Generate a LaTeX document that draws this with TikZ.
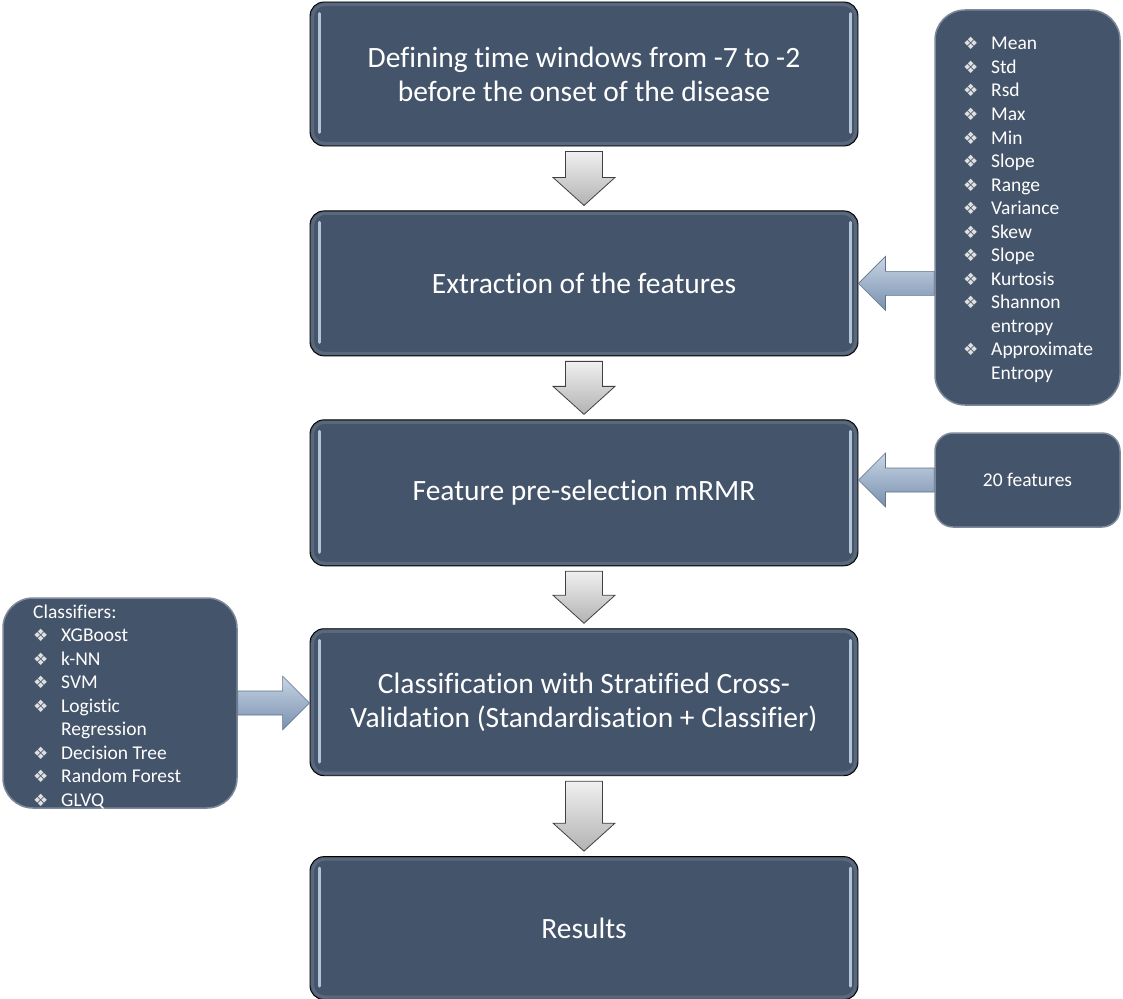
\documentclass[tikz,border=0pt]{standalone}
\usepackage{fontspec}
\setmainfont{Carlito}[Ligatures=NoCommon]
\newfontfamily\dejavu{DejaVu Sans}
\usetikzlibrary{positioning,calc}
\definecolor{slate}{HTML}{44546A}
\definecolor{slateedge}{HTML}{7D899B}
\definecolor{glint}{HTML}{B4C3D6}
\definecolor{steellight}{HTML}{C8D5E5}
\definecolor{steeldark}{HTML}{7890AE}
\newcommand{\featbullet}{\makebox[14pt][l]{\dejavu\fontsize{17}{17}\selectfont\color{black!12}❖}}

\begin{document}
\begin{tikzpicture}[x=1pt,y=-1pt,
  stage/.style={draw=black, line width=0.9pt, fill=slate, rounded corners=14pt, minimum width=548pt, minimum height=145pt, text=white, align=center, font=\fontsize{29.5}{34}\selectfont},
  sidebox/.style={draw=slateedge, line width=1.5pt, fill=slate, rounded corners=30pt},
  listtext/.style={anchor=base west, inner sep=0pt, text=white, font=\fontsize{19.5}{23.5}\selectfont},
  downarrow/.style={draw=black!75, line width=0.8pt, top color=black!6, bottom color=black!30},
  sidearrow/.style={draw=steeldark!80!black, line width=0.6pt, top color=steellight, bottom color=steeldark}]
\useasboundingbox (0,0) rectangle (1123,998);

\node[stage, minimum height=144pt] (b1) at (584,74) {Defining time windows from -7 to -2\\before the onset of the disease};
\node[stage, below=64pt of b1] (b2) {Extraction of the features};
\node[stage, minimum height=146pt, below=63pt of b2] (b3) {Feature pre-selection mRMR};
\node[stage, minimum height=147pt, below=62pt of b3] (b4) {Classification with Stratified Cross-\\Validation (Standardisation + Classifier)};
\node[stage, minimum height=143pt, below=80pt of b4] (b5) {Results};

\foreach \n in {b1,b2,b3,b4,b5} {
  \draw[white, opacity=0.12, line width=3pt, rounded corners=12pt] ([shift={(3pt,-3pt)}]\n.north west) rectangle ([shift={(-3pt,3pt)}]\n.south east);
  \draw[glint, line width=3pt, line cap=round] ([shift={(10pt,-12pt)}]\n.north west) -- ([shift={(10pt,14pt)}]\n.south west);
  \draw[glint, line width=3pt, line cap=round] ([shift={(-8pt,-12pt)}]\n.north east) -- ([shift={(-8pt,14pt)}]\n.south east);
}

\node[sidebox, minimum width=185pt, minimum height=395pt] (feat) at (1027.5,207.5) {};
\node[sidebox, rounded corners=18pt, minimum width=185pt, minimum height=94pt, text=white, font=\fontsize{19.5}{23.5}\selectfont] (sel) at (1027.5,480) {20 features};
\node[sidebox, minimum width=234pt, minimum height=210pt] (clf) at (120,703) {};

\node[listtext] (featlist) at (963,50) {\begin{tabular}[t]{@{}l@{\hspace{14pt}}l@{}}
\featbullet & Mean\\
\featbullet & Std\\
\featbullet & Rsd\\
\featbullet & Max\\
\featbullet & Min\\
\featbullet & Slope\\
\featbullet & Range\\
\featbullet & Variance\\
\featbullet & Skew\\
\featbullet & Slope\\
\featbullet & Kurtosis\\
\featbullet & Shannon\\
 & entropy\\
\featbullet & Approximate\\
 & Entropy
\end{tabular}};

\node[listtext] (clflist) at (33,618) {\begin{tabular}[t]{@{}l@{\hspace{14pt}}l@{}}
\multicolumn{2}{@{}l@{}}{Classifiers:}\\
\featbullet & XGBoost\\
\featbullet & k-NN\\
\featbullet & SVM\\
\featbullet & Logistic\\
 & Regression\\
\featbullet & Decision Tree\\
\featbullet & Random Forest\\
\featbullet & GLVQ
\end{tabular}};

\foreach \a/\b in {b1/b2,b2/b3,b3/b4,b4/b5}
  \draw[downarrow] let \p1=([yshift=-5pt]\a.south), \p2=([yshift=5pt]\b.north) in
    (\x1-18.5pt,\y1) -- (\x1+18.5pt,\y1) -- (\x1+18.5pt,\y2+28pt) -- (\x1+31pt,\y2+28pt) -- (\x1,\y2)
    -- (\x1-31pt,\y2+28pt) -- (\x1-18.5pt,\y2+28pt) -- cycle;

\foreach \t/\h in {{feat.west |- b2.east}/b2.east, sel.west/{sel.west -| b3.east}, clf.east/{clf.east -| b4.west}}
  \draw[sidearrow] let \p1=(\t), \p2=(\h), \p3=($(\h)!27pt!(\t)$) in
    (\x1,\y2+12pt) -- (\x3,\y2+12pt) -- (\x3,\y2+27pt) -- (\x2,\y2) -- (\x3,\y2-27pt)
    -- (\x3,\y2-12pt) -- (\x1,\y2-12pt) -- cycle;
\end{tikzpicture}
\end{document}
